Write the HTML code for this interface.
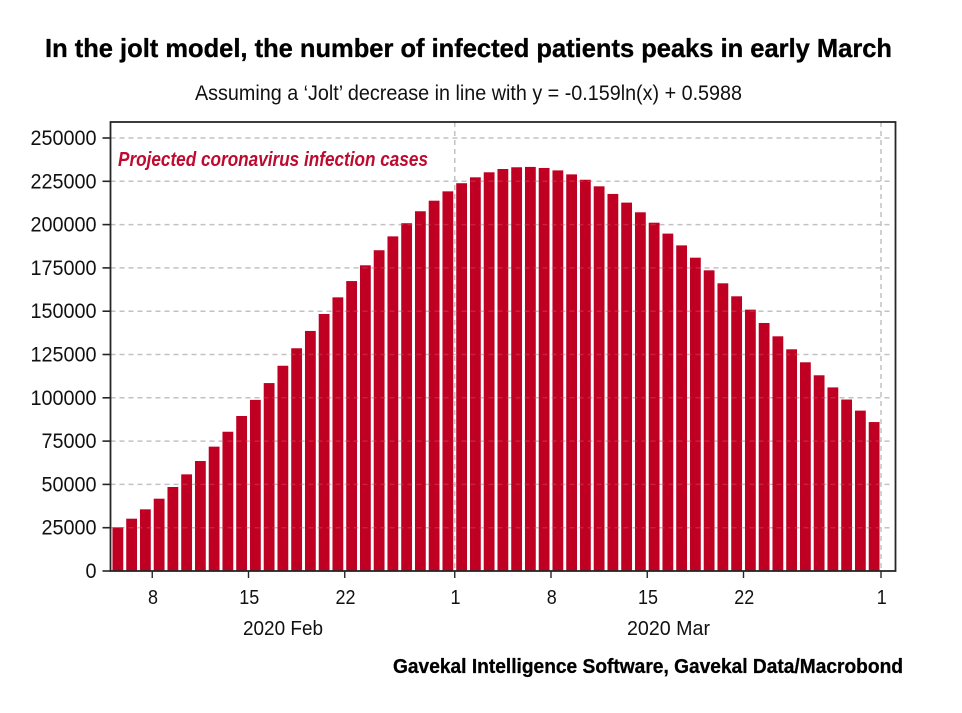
<!DOCTYPE html>
<html lang="en">
<head>
<meta charset="utf-8">
<title>Jolt model chart</title>
<style>
  html, body { margin: 0; padding: 0; background: #fff; width: 962px; height: 713px; overflow: hidden; }
  svg { display: block; font-family: "Liberation Sans", sans-serif; }
</style>
</head>
<body>
<svg id="chart" width="962" height="713" viewBox="0 0 962 713" xmlns="http://www.w3.org/2000/svg">
  <defs><clipPath id="bar-clip"></clipPath></defs>
  <rect x="0" y="0" width="962" height="713" fill="#ffffff"/>
  <text x="45" y="57" font-size="26" font-weight="700" fill="#000" stroke="#000" stroke-width="0.35" textLength="847" lengthAdjust="spacingAndGlyphs">In the jolt model, the number of infected patients peaks in early March</text>
  <text x="195" y="100" font-size="21" fill="#111" textLength="547" lengthAdjust="spacingAndGlyphs">Assuming a ‘Jolt’ decrease in line with y = -0.159ln(x) + 0.5988</text>
  <g id="grid-back"></g>
  <g id="bars"></g>
  <g id="grid-front" clip-path="url(#bar-clip)"></g>
  <g id="axes"></g>
  <text x="118" y="166" font-size="20" font-weight="700" font-style="italic" fill="#bf0a30" textLength="310" lengthAdjust="spacingAndGlyphs">Projected coronavirus infection cases</text>
  <text x="243" y="635" font-size="20.5" fill="#111" textLength="80" lengthAdjust="spacingAndGlyphs">2020 Feb</text>
  <text x="627" y="635" font-size="20.5" fill="#111" textLength="83" lengthAdjust="spacingAndGlyphs">2020 Mar</text>
  <text x="393" y="673" font-size="20" font-weight="700" fill="#000" stroke="#000" stroke-width="0.3" textLength="510" lengthAdjust="spacingAndGlyphs">Gavekal Intelligence Software, Gavekal Data/Macrobond</text>
</svg>
<script>
// Chart data
const seriesValues = [
  25200, 30200, 35600, 41750, 48500, 55800, 63500, 71800, 80400, 89500,
  98800, 108500, 118500, 128600, 138600, 148400, 158000, 167400, 176500, 185200,
  193200, 200800, 207700, 213800, 219200, 223900, 227300, 230200, 232100, 233100,
  233300, 232700, 231300, 229000, 225900, 222100, 217700, 212700, 207100, 201100,
  194800, 188000, 180900, 173600, 166100, 158600, 150900, 143200, 135500, 128000,
  120500, 113000, 106000, 99000, 92600, 86000
];
const firstDayIndex = 4;
const yTickValues = [0, 25000, 50000, 75000, 100000, 125000, 150000, 175000, 200000, 225000, 250000];
const xTickLabels = ['8', '15', '22', '1', '8', '15', '22', '1'];
const xTickDays = [7, 14, 21, 29, 36, 43, 50, 60];
const monthStartDays = [29, 60];

const NS = 'http://www.w3.org/2000/svg';
const plotLeft = 110.5, plotRight = 895.5, plotTop = 122, plotBottom = 571;
const yTop = 138, yMax = 250000;
const dayOrigin = 56, dayWidth = 13.75;
const barWidth = 10.8;

function xScale(day) { return dayOrigin + day * dayWidth; }
function yScale(value) { return plotBottom - (value / yMax) * (plotBottom - yTop); }

function make(tag, attrs, parent) {
  const el = document.createElementNS(NS, tag);
  for (const k in attrs) el.setAttribute(k, attrs[k]);
  parent.appendChild(el);
  return el;
}

const gridBack = document.getElementById('grid-back');
const gridFront = document.getElementById('grid-front');
const barsGroup = document.getElementById('bars');
const barClip = document.getElementById('bar-clip');
const axes = document.getElementById('axes');

// Gridlines behind the bars
yTickValues.forEach(function (v) {
  if (v === 0) return;
  const line = make('line', { x1: plotLeft, x2: plotRight - 4, y1: yScale(v), y2: yScale(v), stroke: '#c2c2c2', 'stroke-width': 1.5, 'stroke-dasharray': '5 4' }, gridBack);
  
  
  // Faint trace of the gridline showing through the bars
  const trace = make('line', { x1: plotLeft, x2: plotRight - 4, y1: yScale(v), y2: yScale(v), stroke: '#ffffff', 'stroke-width': 1.5, 'stroke-dasharray': '5 4', opacity: 0.13 }, gridFront);
  
  
});
monthStartDays.forEach(function (d) {
  const line = make('line', { x1: xScale(d), x2: xScale(d), y1: plotTop, y2: plotBottom, stroke: '#c2c2c2', 'stroke-width': 1.5, 'stroke-dasharray': '5 4' }, gridBack);
  
  
});

// Bars: each day's bar fills the slot after its date tick
seriesValues.forEach(function (v, i) {
  const day = firstDayIndex + i;
  const slotCenter = xScale(day) + dayWidth / 2;
  const geometry = {
    x: slotCenter - barWidth / 2,
    y: yScale(v),
    width: barWidth,
    height: plotBottom - yScale(v)
  };
  const bar = make('rect', geometry, barsGroup);
  bar.setAttribute('fill', '#bf0023');
  
  
  make('rect', geometry, barClip);
});

// Frame
const frame = make('rect', { x: plotLeft, y: plotTop, width: plotRight - plotLeft, height: plotBottom - plotTop, fill: 'none', stroke: '#262626', 'stroke-width': 1.8 }, axes);



// Y axis
yTickValues.forEach(function (v) {
  const y = yScale(v);
  const tick = make('line', { x1: plotLeft - 8, x2: plotLeft, y1: y, y2: y, stroke: '#262626', 'stroke-width': 1.6 }, axes);
  
  
  const label = String(v);
  const t = make('text', { x: 96.5, y: y + 7, 'font-size': 21, fill: '#111', 'text-anchor': 'end', textLength: label.length * 11, lengthAdjust: 'spacingAndGlyphs' }, axes);
  t.textContent = label;
  
  
});

// X axis
xTickDays.forEach(function (d, i) {
  const x = xScale(d);
  const tick = make('line', { x1: x, x2: x, y1: plotBottom, y2: plotBottom + 7, stroke: '#262626', 'stroke-width': 1.4 }, axes);
  
  
  const label = xTickLabels[i];
  const t = make('text', { x: x + 0.8, y: 604, 'font-size': 20.5, fill: '#111', 'text-anchor': 'middle', textLength: label.length * 10, lengthAdjust: 'spacingAndGlyphs' }, axes);
  t.textContent = label;
  
  
});
</script>
</body>
</html>
